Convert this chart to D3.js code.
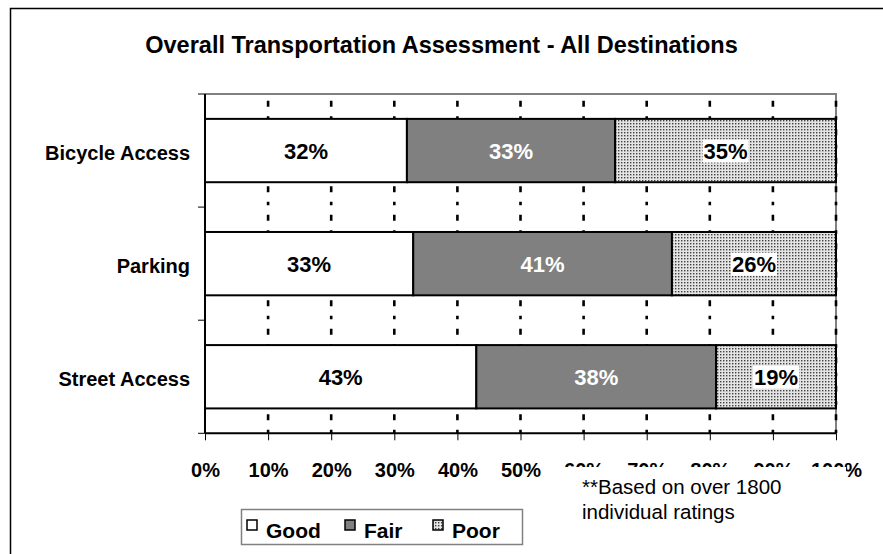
<!DOCTYPE html>
<html>
<head>
<meta charset="utf-8">
<script src="https://cdn.jsdelivr.net/npm/d3@7"></script>
<style>
  html, body { margin: 0; padding: 0; background: #fff; }
  svg { display: block; font-family: Arial, "Liberation Sans", sans-serif; }
</style>
</head>
<body>
<svg id="chart" width="883" height="554"></svg>
<script>
const title = "Overall Transportation Assessment - All Destinations";
const categories = ["Bicycle Access", "Parking", "Street Access"];
const seriesNames = ["Good", "Fair", "Poor"];
const good = [32, 33, 43];
const fair = [33, 41, 38];
const poor = [35, 26, 19];
const tickValues = [0, 10, 20, 30, 40, 50, 60, 70, 80, 90, 100];
const tickLabels = ["0%", "10%", "20%", "30%", "40%", "50%", "60%", "70%", "80%", "90%", "100%"];
const noteLines = ["**Based on over 1800", "individual ratings"];

const svg = d3.select("#chart");
const W = 883, H = 554;
const m = { left: 205, right: 836, top: 94, bottom: 433.3 };

// patterns
const defs = svg.append("defs");
const pat = defs.append("pattern").attr("id", "poorPat")
  .attr("patternUnits", "userSpaceOnUse").attr("width", 3).attr("height", 3);
pat.append("rect").attr("width", 3).attr("height", 3).attr("fill", "#e4e4e4");
pat.append("rect").attr("x", 0).attr("y", 0).attr("width", 1.4).attr("height", 1.4).attr("fill", "#404040");

// outer frame
svg.append("rect").attr("x", 10.5).attr("y", 8.5).attr("width", 900).attr("height", 600)
  .attr("fill", "#fff").attr("stroke", "#000").attr("stroke-width", 1.5);

// title
svg.append("text").attr("x", W / 2).attr("y", 53).attr("text-anchor", "middle")
  .attr("font-size", 23.5).attr("font-weight", "bold").text(title);

const x = d3.scaleLinear().domain([0, 100]).range([m.left, m.right]);
const y = d3.scaleBand().domain(categories).range([m.top, m.bottom])
  .paddingInner(0.44).paddingOuter(0.22);

// plot border (top/right gray)
svg.append("path")
  .attr("d", `M${m.left},${m.top}H${m.right}V${m.bottom}`)
  .attr("fill", "none").attr("stroke", "#808080").attr("stroke-width", 2);

// gridlines
svg.append("g").selectAll("line").data(tickValues.slice(1)).join("line")
  .attr("x1", d => x(d)).attr("x2", d => x(d))
  .attr("y1", m.bottom).attr("y2", m.top)
  .attr("stroke", "#000").attr("stroke-width", 2.6)
  .attr("stroke-dasharray", "3.5,9.5,6,9.5").attr("stroke-dashoffset", 0);

// stacked bars
const rows = categories.map((c, i) => ({ cat: c, vals: [good[i], fair[i], poor[i]] }));
const fills = ["#ffffff", "#808080", "url(#poorPat)"];
const gBars = svg.append("g");
const gLabels = svg.append("g");
rows.forEach(r => {
  let acc = 0;
  r.vals.forEach((v, k) => {
    const x0 = x(acc), x1 = x(acc + v);
    acc += v;
    gBars.append("rect")
      .attr("x", x0).attr("y", y(r.cat))
      .attr("width", x1 - x0).attr("height", y.bandwidth())
      .attr("fill", fills[k]).attr("stroke", "#000").attr("stroke-width", 2);
    const cx = (x0 + x1) / 2, cy = y(r.cat) + y.bandwidth() / 2 + 8;
    const label = v + "%";
    const t = gLabels.append("text").attr("x", cx).attr("y", cy)
      .attr("text-anchor", "middle").attr("font-size", 22).attr("font-weight", "bold")
      .attr("fill", k === 1 ? "#fff" : "#000").text(label);
    if (k === 2) {
      const bb = t.node().getBBox();
      gLabels.insert("rect", () => t.node())
        .attr("x", bb.x - 1).attr("y", bb.y + 1).attr("width", bb.width + 2).attr("height", bb.height - 2)
        .attr("fill", "#fff");
    }
  });
});

// left axis
const step = y.step();
const bounds = d3.range(categories.length + 1).map(i => m.top + i * step);
const gL = svg.append("g");
gL.append("line").attr("x1", m.left).attr("x2", m.left).attr("y1", m.top).attr("y2", m.bottom)
  .attr("stroke", "#000").attr("stroke-width", 2);
gL.selectAll(".tk").data(bounds).join("line").attr("class", "tk")
  .attr("x1", m.left - 7).attr("x2", m.left).attr("y1", d => d).attr("y2", d => d)
  .attr("stroke", "#000").attr("stroke-width", 1);
gL.selectAll("text").data(categories).join("text")
  .attr("x", m.left - 15).attr("y", d => y(d) + y.bandwidth() / 2 + 9)
  .attr("text-anchor", "end").attr("font-size", 20).attr("font-weight", "bold").text(d => d);

// bottom axis
const xAxis = d3.axisBottom(x).tickValues(tickValues).tickSize(7)
  .tickFormat((d, i) => tickLabels[i]);
const gB = svg.append("g").attr("transform", `translate(0,${m.bottom})`).call(xAxis);
gB.select(".domain").attr("stroke", "#000").attr("stroke-width", 2).attr("d", `M${m.left},0H${m.right}`);
gB.selectAll(".tick line").attr("stroke", "#000").attr("stroke-width", 1);
gB.selectAll(".tick text").attr("font-size", 20).attr("font-weight", "bold")
  .attr("font-family", "Arial, 'Liberation Sans', sans-serif").attr("fill", "#000")
  .attr("y", 0).attr("dy", 0).attr("transform", "translate(0,44)");

// note box (covers part of tick labels, as in the original)
svg.append("rect").attr("x", 556).attr("y", 467).attr("width", 290).attr("height", 62).attr("fill", "#fff");
svg.append("g").selectAll("text").data(noteLines).join("text")
  .attr("x", 582).attr("y", (d, i) => 494 + i * 25)
  .attr("font-size", 20.5).text(d => d);

// legend
const lg = svg.append("g");
lg.append("rect").attr("x", 241.5).attr("y", 509.5).attr("width", 281).attr("height", 35)
  .attr("fill", "#fff").attr("stroke", "#808080").attr("stroke-width", 1.5);
const legX = [247, 345, 433];
const legFill = ["#ffffff", "#808080", "url(#poorPat)"];
seriesNames.forEach((s, i) => {
  lg.append("rect").attr("x", legX[i]).attr("y", 520).attr("width", 10).attr("height", 10)
    .attr("fill", legFill[i]).attr("stroke", "#000").attr("stroke-width", 1.5);
  lg.append("text").attr("x", legX[i] + 19).attr("y", 538)
    .attr("font-size", 21).attr("font-weight", "bold").text(s);
});
</script>
</body>
</html>
